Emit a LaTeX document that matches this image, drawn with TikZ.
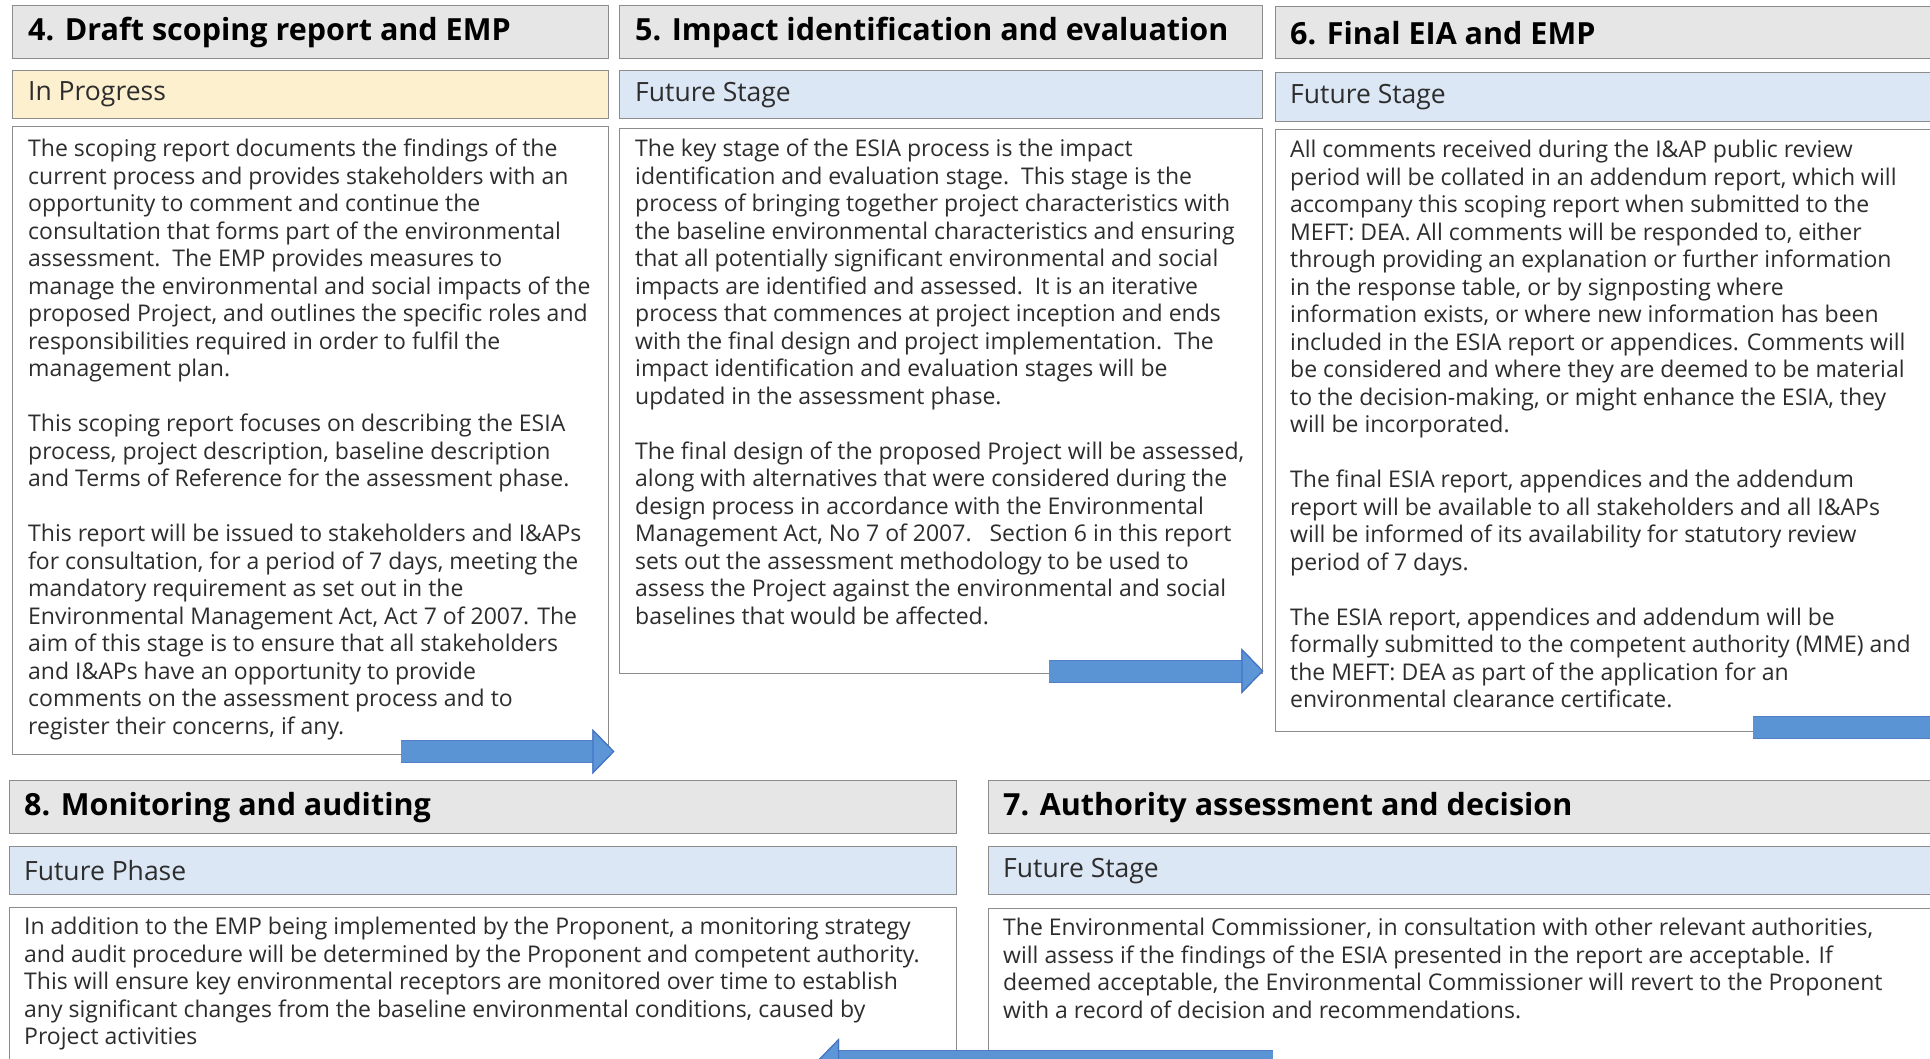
\documentclass[tikz,border=0pt]{standalone}
\usepackage{fontspec}
\setmainfont{Open Sans}
\usetikzlibrary{positioning,calc,arrows.meta}

\definecolor{boxline}{RGB}{140,140,140}
\definecolor{titlegray}{RGB}{231,230,230}
\definecolor{progressyellow}{RGB}{253,240,207}
\definecolor{futureblue}{RGB}{219,231,244}
\definecolor{arrowblue}{RGB}{92,150,214}
\definecolor{arrowedge}{RGB}{68,114,196}
\definecolor{bodyink}{RGB}{45,45,45}

\tikzset{
  box/.style={draw=boxline, line width=1.4pt, anchor=north west, inner sep=0pt},
  titlebox/.style={box, fill=titlegray, minimum height=53pt},
  statebox/.style={box, minimum height=48pt},
  bodybox/.style={box, fill=white},
  titletext/.style={anchor=west, inner sep=0pt, text=black, font=\fontsize{30.5}{34}\selectfont\bfseries},
  statetext/.style={anchor=west, inner sep=0pt, text=bodyink, font=\fontsize{26.5}{30}\selectfont},
  bodytext/.style={anchor=north west, inner sep=0pt, align=left, text=bodyink, font=\fontsize{23}{27.5}\selectfont},
  flow/.style={draw=arrowblue, line width=21pt, draw opacity=0.92,
    preaction={draw=arrowedge, line width=23pt, draw opacity=0.92}},
  flowtip/.style={-{Triangle[length=22pt, width=45pt, fill=arrowblue, color=arrowedge, line width=1.2pt]}}
}

\begin{document}
\begin{tikzpicture}[x=1pt,y=-1pt]
\useasboundingbox (0,0) rectangle (1930,1058);
\clip (0,0) rectangle (1930,1058);

% stage 4
\node[titlebox, minimum width=596pt] (t4) at (12,5) {};
\node[titletext] at ([xshift=16pt]t4.west) {4. Draft scoping report and EMP};
\node[statebox, fill=progressyellow, minimum width=596pt] (s4) at (12,70) {};
\node[statetext] at ([xshift=16pt]s4.west) {In Progress};
\node[bodybox, minimum width=596pt, minimum height=628pt] (b4) at (12,126) {};
\node[bodytext] (x4) at ([xshift=16pt,yshift=-13pt]b4.north west) {The scoping report documents the findings of the\\
current process and provides stakeholders with an\\
opportunity to comment and continue the\\
consultation that forms part of the environmental\\
assessment.\ \ The EMP provides measures to\\
manage the environmental and social impacts of the\\
proposed Project, and outlines the specific roles and\\
responsibilities required in order to fulfil the\\
management plan.\\[27.5pt]
This scoping report focuses on describing the ESIA\\
process, project description, baseline description\\
and Terms of Reference for the assessment phase.\\[27.5pt]
This report will be issued to stakeholders and I\&APs\\
for consultation, for a period of 7 days, meeting the\\
mandatory requirement as set out in the\\
Environmental Management Act, Act 7 of 2007. The\\
aim of this stage is to ensure that all stakeholders\\
and I\&APs have an opportunity to provide\\
comments on the assessment process and to\\
register their concerns, if any.};

% stage 5
\node[titlebox, minimum width=643pt] (t5) at (619,5) {};
\node[titletext] at ([xshift=16pt]t5.west) {5. Impact identification and evaluation};
\node[statebox, fill=futureblue, minimum width=643pt] (s5) at (619,70) {};
\node[statetext] at ([xshift=16pt]s5.west) {Future Stage};
\node[bodybox, minimum width=643pt, minimum height=545pt] (b5) at (619,128) {};
\node[bodytext] (x5) at ([xshift=16pt,yshift=-11pt]b5.north west) {The key stage of the ESIA process is the impact\\
identification and evaluation stage.\ \ This stage is the\\
process of bringing together project characteristics with\\
the baseline environmental characteristics and ensuring\\
that all potentially significant environmental and social\\
impacts are identified and assessed.\ \ It is an iterative\\
process that commences at project inception and ends\\
with the final design and project implementation.\ \ The\\
impact identification and evaluation stages will be\\
updated in the assessment phase.\\[27.5pt]
The final design of the proposed Project will be assessed,\\
along with alternatives that were considered during the\\
design process in accordance with the Environmental\\
Management Act, No 7 of 2007.\ \ \ Section 6 in this report\\
sets out the assessment methodology to be used to\\
assess the Project against the environmental and social\\
baselines that would be affected.};

% stage 6
\node[titlebox, minimum width=670pt, minimum height=52pt] (t6) at (1275,6) {};
\node[titletext] at ([xshift=15pt]t6.west) {6. Final EIA and EMP};
\node[statebox, fill=futureblue, minimum width=670pt, minimum height=49pt] (s6) at (1275,72) {};
\node[statetext] at ([xshift=15pt]s6.west) {Future Stage};
\node[bodybox, minimum width=670pt, minimum height=602pt] (b6) at (1275,129) {};
\node[bodytext] (x6) at ([xshift=15pt,yshift=-11pt]b6.north west) {All comments received during the I\&AP public review\\
period will be collated in an addendum report, which will\\
accompany this scoping report when submitted to the\\
MEFT: DEA. All comments will be responded to, either\\
through providing an explanation or further information\\
in the response table, or by signposting where\\
information exists, or where new information has been\\
included in the ESIA report or appendices. Comments will\\
be considered and where they are deemed to be material\\
to the decision-making, or might enhance the ESIA, they\\
will be incorporated.\\[27.5pt]
The final ESIA report, appendices and the addendum\\
report will be available to all stakeholders and all I\&APs\\
will be informed of its availability for statutory review\\
period of 7 days.\\[27.5pt]
The ESIA report, appendices and addendum will be\\
formally submitted to the competent authority (MME) and\\
the MEFT: DEA as part of the application for an\\
environmental clearance certificate.};

% stage 8
\node[titlebox, minimum width=947pt] (t8) at (9,780) {};
\node[titletext] at ([xshift=15pt]t8.west) {8. Monitoring and auditing};
\node[statebox, fill=futureblue, minimum width=947pt] (s8) at (9,846) {};
\node[statetext] at ([xshift=15pt]s8.west) {Future Phase};
\node[bodybox, minimum width=947pt, minimum height=170pt] (b8) at (9,907) {};
\node[bodytext] (x8) at ([xshift=15pt,yshift=-10pt]b8.north west) {In addition to the EMP being implemented by the Proponent, a monitoring strategy\\
and audit procedure will be determined by the Proponent and competent authority.\\
This will ensure key environmental receptors are monitored over time to establish\\
any significant changes from the baseline environmental conditions, caused by\\
Project activities};

% stage 7
\node[titlebox, minimum width=957pt] (t7) at (988,780) {};
\node[titletext] at ([xshift=15pt]t7.west) {7. Authority assessment and decision};
\node[statebox, fill=futureblue, minimum width=957pt] (s7) at (988,846) {};
\node[statetext] at ([xshift=15pt]s7.west) {Future Stage};
\node[bodybox, minimum width=957pt, minimum height=170pt] (b7) at (988,908) {};
\node[bodytext] (x7) at ([xshift=15pt,yshift=-10pt]b7.north west) {The Environmental Commissioner, in consultation with other relevant authorities,\\
will assess if the findings of the ESIA presented in the report are acceptable. If\\
deemed acceptable, the Environmental Commissioner will revert to the Proponent\\
with a record of decision and recommendations.};

% arrows between the stages
\coordinate (go45) at (401,751.5);
\coordinate (in45) at ($(b4.east |- go45)+(5,0)$);
\coordinate (go56) at (1049,671);
\coordinate (in56) at (b5.east |- go56);
\coordinate (go67) at (1753,727.5);
\coordinate (out67) at (1945,727.5);
\coordinate (go78) at (1273,1061);
\coordinate (in78) at (817,1061);
\draw[flow, flowtip] (go45) -- (in45);
\draw[flow, flowtip] (go56) -- (in56);
\draw[flow] (go67) -- (out67);
\draw[flow, flowtip] (go78) -- (in78);

\end{tikzpicture}
\end{document}
